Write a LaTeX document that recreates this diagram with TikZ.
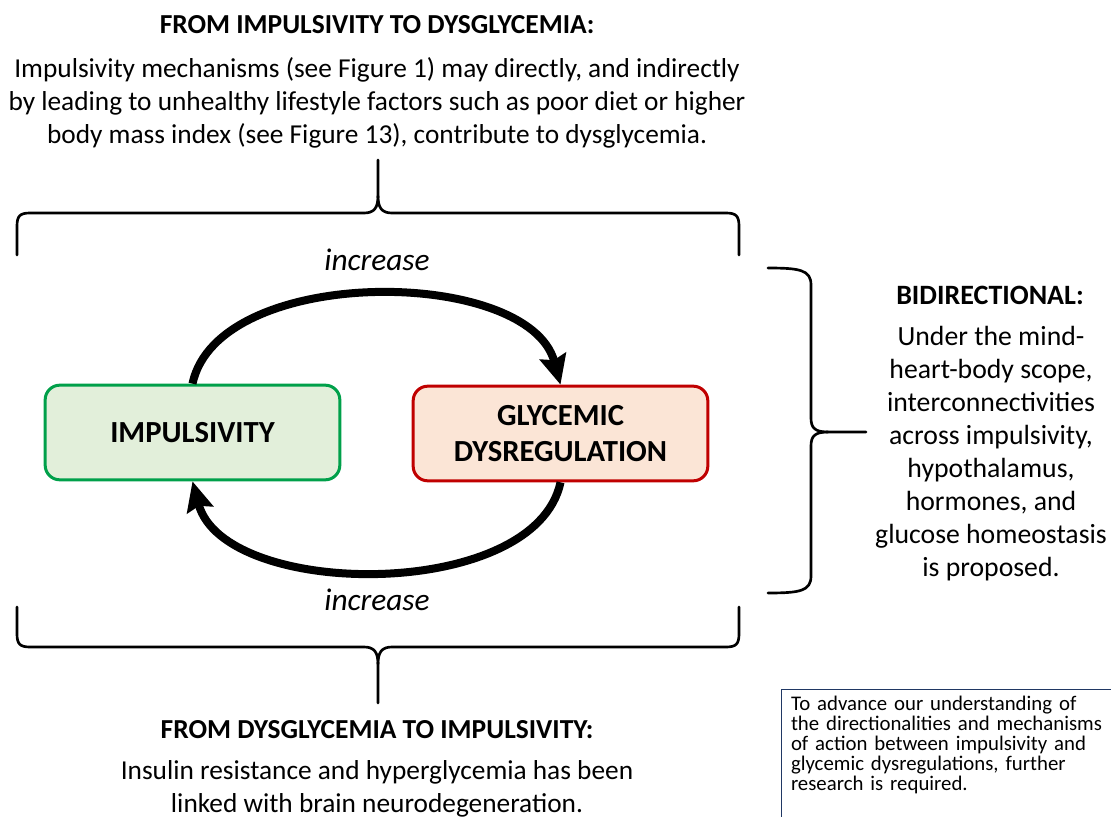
\documentclass[tikz,border=0pt]{standalone}
\usepackage{fontspec}
\setmainfont{Carlito}
\usetikzlibrary{arrows.meta}
\definecolor{impline}{HTML}{00A04A}
\definecolor{impfill}{HTML}{E2EFDA}
\definecolor{glycline}{HTML}{C00000}
\definecolor{glycfill}{HTML}{FBE5D6}
\definecolor{noteline}{HTML}{203864}
\tikzset{every node/.style={font=\fontsize{20.5}{24.75}\selectfont, inner sep=0pt},
  headline/.style={font=\fontsize{20.6}{24.75}\selectfont\bfseries},
  box/.style={rounded corners=11pt, line width=2.25pt, minimum width=221pt, minimum height=71pt,
    align=center, font=\fontsize{23}{27}\selectfont\bfseries},
  loop arrow/.style={line width=6pt, -{Stealth[length=22pt,width=20pt,inset=3pt]}},
  brace/.style={line width=2pt, line join=round, line cap=round}}

\begin{document}
\begin{tikzpicture}[x=0.75pt, y=-0.75pt]
  \useasboundingbox (0,0) rectangle (1111,817);
  % texts above
  \node[headline] (toptitle) at (377,25) {FROM IMPULSIVITY TO DYSGLYCEMIA:};
  \node[align=center] (toptext) at (377,103) {Impulsivity mechanisms (see Figure 1) may directly, and indirectly\\
    by leading to unhealthy lifestyle factors such as poor diet or higher\\
    body mass index (see Figure 13), contribute to dysglycemia.};
  % the two boxes
  \node[box, draw=impline, fill=impfill] (imp) at (192.5,432.5) {IMPULSIVITY};
  \node[box, draw=glycline, fill=glycfill] (glyc) at (560.5,433.5) {GLYCEMIC\\DYSREGULATION};
  \draw[loop arrow] (imp.north) to[out=78, in=105, looseness=0.85] (glyc.north);
  \draw[loop arrow] (glyc.south) to[out=-102, in=-75, looseness=0.85] (imp.south);
  \node[font=\fontsize{23.5}{27}\selectfont\itshape] (incup) at (377,260) {increase};
  \node[font=\fontsize{23.5}{27}\selectfont\itshape] (incdown) at (377,600) {increase};
  % braces
  \draw[brace] (17,255) -- (17,226) .. controls (17,216) and (20,213) .. (30,213) -- (364,213)
    .. controls (374,213) and (378,208) .. (378,196) -- (378,160);
  \draw[brace] (739,255) -- (739,226) .. controls (739,216) and (736,213) .. (726,213) -- (392,213)
    .. controls (382,213) and (378,208) .. (378,196);
  \draw[brace] (17,607) -- (17,634) .. controls (17,644) and (20,647) .. (30,647) -- (364,647)
    .. controls (374,647) and (378,652) .. (378,664) -- (378,703);
  \draw[brace] (739,607) -- (739,634) .. controls (739,644) and (736,647) .. (726,647) -- (392,647)
    .. controls (382,647) and (378,652) .. (378,664);
  \draw[brace] (768,268) .. controls (800,268) and (811,270) .. (811,285) -- (811,418)
    .. controls (811,428) and (815,432) .. (828,432) -- (866,432);
  \draw[brace] (768,593) .. controls (800,593) and (811,591) .. (811,576) -- (811,446)
    .. controls (811,436) and (815,432) .. (828,432);
  % right side
  \node[headline, font=\fontsize{21}{24.75}\selectfont\bfseries] (bititle) at (990,295) {BIDIRECTIONAL:};
  \node[align=center, font=\fontsize{20.8}{24.75}\selectfont] (bitext) at (991,453.5) {Under the mind-\\heart-body scope,\\interconnectivities\\
    across impulsivity,\\hypothalamus,\\hormones, and\\glucose homeostasis\\is proposed.};
  % texts below
  \node[headline] (bottitle) at (377,730) {FROM DYSGLYCEMIA TO IMPULSIVITY:};
  \node[align=center] (bottext) at (377,789) {Insulin resistance and hyperglycemia has been\\linked with brain neurodegeneration.};
  \node[draw=noteline, line width=1pt, anchor=north west, align=left, inner xsep=7pt, inner ysep=5pt,
    text width=260pt, text depth=80pt, font=\fontsize{15.6}{15}\selectfont] (note) at (781,689)
    {To advance our understanding of\\the directionalities and mechanisms\\of action between impulsivity and\\
     glycemic dysregulations, further\\research is required.};
\end{tikzpicture}
\end{document}
